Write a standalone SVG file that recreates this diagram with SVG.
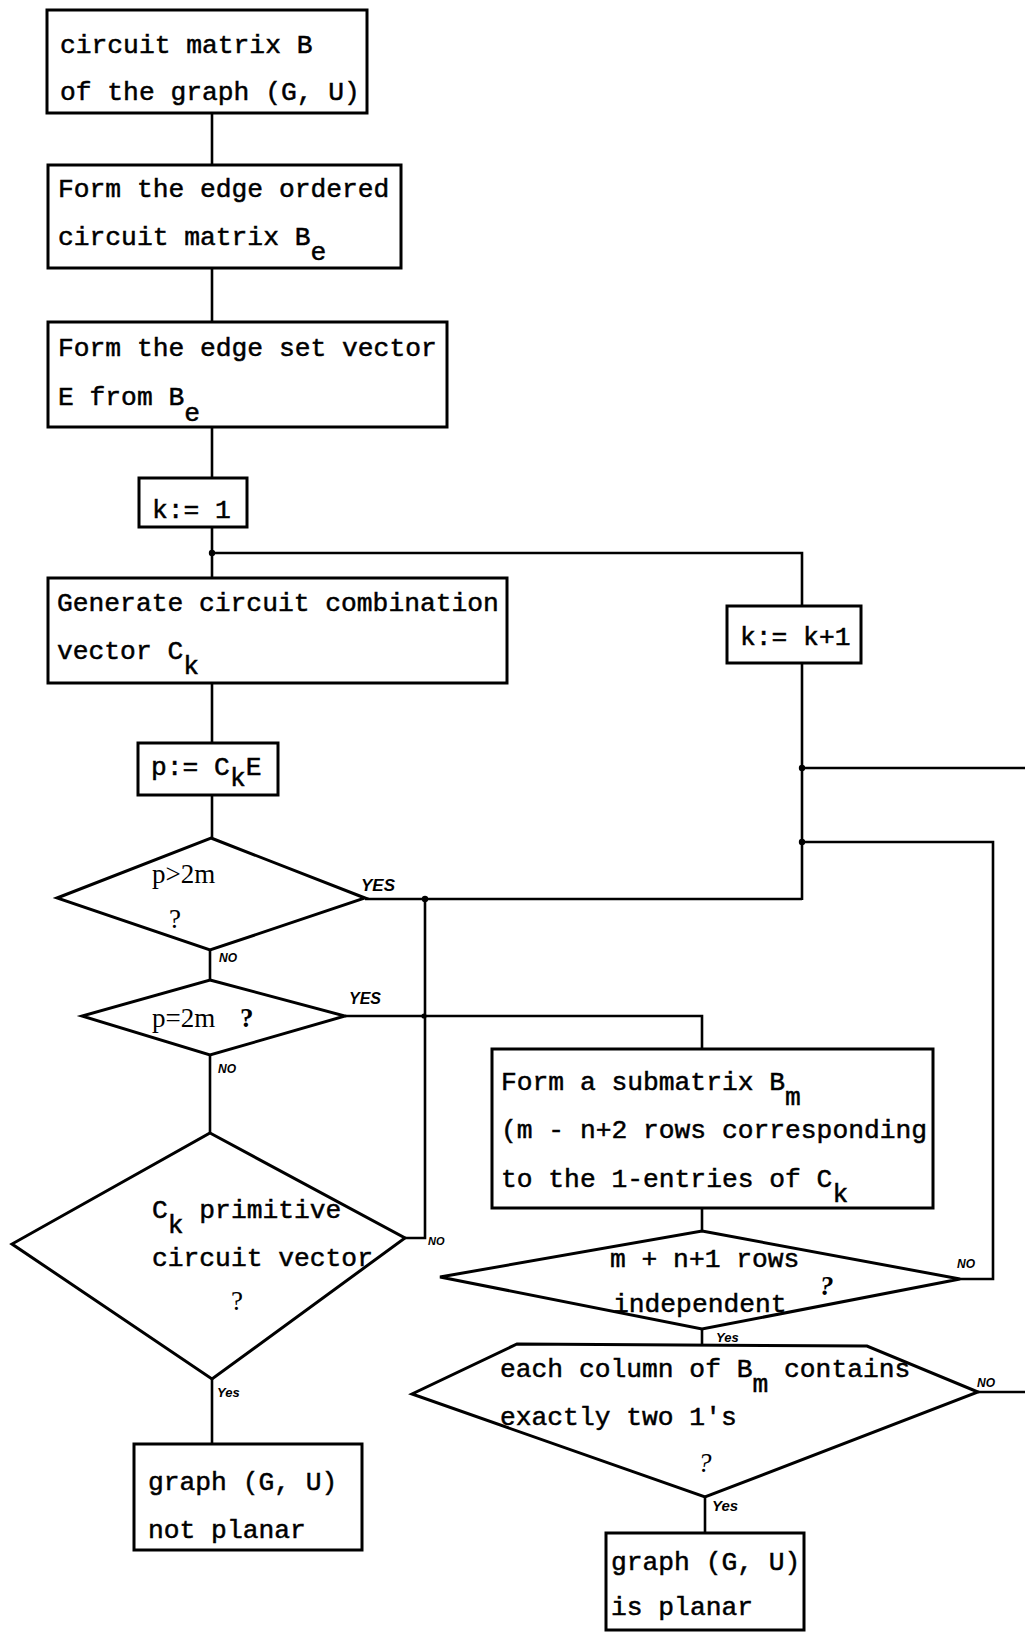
<svg xmlns="http://www.w3.org/2000/svg" width="1025" height="1632" viewBox="0 0 1025 1632">
<style>
.box{fill:#fff;stroke:#000;stroke-width:3}
.ln{fill:none;stroke:#000;stroke-width:2.6;stroke-linejoin:miter}
.t{font-family:"Liberation Mono","Courier New",monospace;font-size:26.3px;fill:#000;stroke:#000;stroke-width:0.5}
.s{font-family:"Liberation Serif","Times New Roman",serif;font-size:27px;fill:#000}
.lab{font-family:"Liberation Sans",Arial,sans-serif;font-style:italic;font-weight:bold;fill:#000}
.dot{fill:#000}
</style>
<rect width="1025" height="1632" fill="#fff"/>

<g id="connectors">
  <path class="ln" d="M212,113 V165"/>
  <path class="ln" d="M212,268 V322"/>
  <path class="ln" d="M212,427 V478"/>
  <path class="ln" d="M212,527 V578"/>
  <path class="ln" d="M212,553 H802 V606"/>
  <path class="ln" d="M802,663 V900"/>
  <path class="ln" d="M802,768 H1025"/>
  <path class="ln" d="M802,842 H993 V1279 H960"/>
  <path class="ln" d="M212,683 V743"/>
  <path class="ln" d="M212,795 V838"/>
  <path class="ln" d="M365,899 H802"/>
  <path class="ln" d="M425,899 V1238 H405"/>
  <path class="ln" d="M210,950 V980"/>
  <path class="ln" d="M345,1016 H702 V1049"/>
  <path class="ln" d="M210,1055 V1133"/>
  <path class="ln" d="M212,1379 V1444"/>
  <path class="ln" d="M702,1208 V1231"/>
  <path class="ln" d="M702,1329 V1345"/>
  <path class="ln" d="M978,1392 H1025"/>
  <path class="ln" d="M705,1497 V1533"/>
  <circle class="dot" cx="212" cy="553" r="3.2"/>
  <circle class="dot" cx="802" cy="768" r="3.2"/>
  <circle class="dot" cx="802" cy="842" r="3.2"/>
  <circle class="dot" cx="425" cy="899" r="3.2"/>
  <circle class="dot" cx="424" cy="1016" r="2.6"/>
</g>

<g id="n1">
  <rect class="box" x="47" y="10" width="320" height="103"/>
  <text class="t" x="60" y="53">circuit matrix B</text>
  <text class="t" x="60" y="100">of the graph (G, U)</text>
</g>

<g id="n2">
  <rect class="box" x="48" y="165" width="353" height="103"/>
  <text class="t" x="58" y="197">Form the edge ordered</text>
  <text class="t" x="58" y="245">circuit matrix B<tspan dy="15">e</tspan></text>
</g>

<g id="n3">
  <rect class="box" x="48" y="322" width="399" height="105"/>
  <text class="t" x="58" y="356">Form the edge set vector</text>
  <text class="t" x="58" y="405">E from B<tspan dy="16">e</tspan></text>
</g>

<g id="n4">
  <rect class="box" x="139" y="478" width="108" height="49"/>
  <text class="t" x="152" y="518">k:= 1</text>
</g>

<g id="n5">
  <rect class="box" x="48" y="578" width="459" height="105"/>
  <text class="t" x="57" y="611">Generate circuit combination</text>
  <text class="t" x="57" y="659">vector C<tspan dy="15">k</tspan></text>
</g>

<g id="n6">
  <rect class="box" x="727" y="606" width="134" height="57"/>
  <text class="t" x="740" y="645">k:= k+1</text>
</g>

<g id="n7">
  <rect class="box" x="138" y="743" width="140" height="52"/>
  <text class="t" x="151" y="775">p:= C<tspan dy="11">k</tspan><tspan dy="-11">E</tspan></text>
</g>

<g id="n8">
  <polygon class="box" points="211,838 365,898 210,950 57,898"/>
  <text class="s" x="152" y="883">p&gt;2m</text>
  <text class="s" x="169" y="928">?</text>
  <text class="lab" x="361" y="891" font-size="17">YES</text>
  <text class="lab" x="219" y="962" font-size="12">NO</text>
</g>

<g id="n9">
  <polygon class="box" points="210,980 345,1016 210,1055 82,1016"/>
  <text class="s" x="152" y="1027">p=2m</text>
  <text class="s" x="240" y="1027" font-weight="bold">?</text>
  <text class="lab" x="349" y="1004" font-size="16">YES</text>
  <text class="lab" x="218" y="1073" font-size="12">NO</text>
</g>

<g id="n10">
  <polygon class="box" points="210,1133 405,1238 212,1379 12,1244"/>
  <text class="t" x="152" y="1218">C<tspan dy="15">k</tspan><tspan dy="-15"> primitive</tspan></text>
  <text class="t" x="152" y="1266">circuit vector</text>
  <text class="s" x="231" y="1310">?</text>
  <text class="lab" x="428" y="1245" font-size="11">NO</text>
  <text class="lab" x="217" y="1397" font-size="13">Yes</text>
</g>

<g id="n11">
  <rect class="box" x="134" y="1444" width="228" height="106"/>
  <text class="t" x="148" y="1490">graph (G, U)</text>
  <text class="t" x="148" y="1538">not planar</text>
</g>

<g id="n12">
  <rect class="box" x="492" y="1049" width="441" height="159"/>
  <text class="t" x="501" y="1090">Form a submatrix B<tspan dy="15">m</tspan></text>
  <text class="t" x="501" y="1138">(m - n+2 rows corresponding</text>
  <text class="t" x="501" y="1187">to the 1-entries of C<tspan dy="15">k</tspan></text>
</g>

<g id="n13">
  <polygon class="box" points="702,1231 960,1279 702,1329 440,1277"/>
  <text class="t" x="610" y="1267">m + n+1 rows</text>
  <text class="t" x="613" y="1312">independent</text>
  <text class="s" x="820" y="1295" font-style="italic" font-size="22" font-weight="bold">?</text>
  <text class="lab" x="957" y="1268" font-size="12">NO</text>
  <text class="lab" x="716" y="1342" font-size="13">Yes</text>
</g>

<g id="n14">
  <polygon class="box" points="517,1344 867,1346 978,1392 705,1497 412,1394"/>
  <text class="t" x="500" y="1377">each column of B<tspan dy="15">m</tspan><tspan dy="-15"> contains</tspan></text>
  <text class="t" x="500" y="1425">exactly two 1's</text>
  <text class="s" x="698" y="1472" font-style="italic" font-size="30">?</text>
  <text class="lab" x="977" y="1387" font-size="12">NO</text>
  <text class="lab" x="712" y="1511" font-size="15">Yes</text>
</g>

<g id="n15">
  <rect class="box" x="606" y="1533" width="198" height="97"/>
  <text class="t" x="611" y="1570">graph (G, U)</text>
  <text class="t" x="611" y="1615">is planar</text>
</g>
</svg>
